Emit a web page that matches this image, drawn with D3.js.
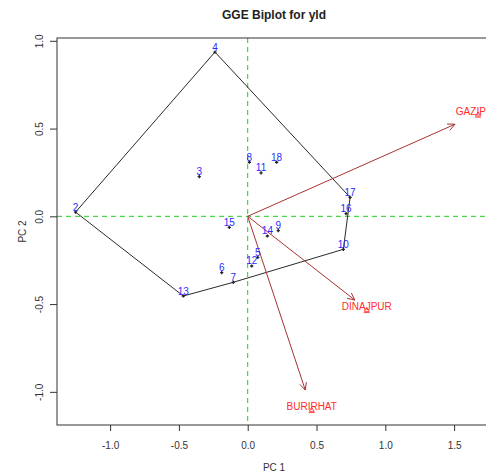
<!DOCTYPE html>
<html>
<head>
<meta charset="utf-8">
<script src="https://cdn.jsdelivr.net/npm/d3@7"></script>
<style>
  html, body { margin: 0; padding: 0; background: #fff; }
  svg { display: block; font-family: "Liberation Sans", Arial, sans-serif; }
</style>
</head>
<body>
<svg id="chart" width="486" height="474"></svg>
<script>
// Genotype scores on the first two principal components
const genotypes = ["2","3","4","5","6","7","8","9","10","11","12","13","14","15","16","17","18"];
const genoPC1 = [-1.251,-0.352,-0.238,0.073,-0.189,-0.105,0.012,0.222,0.695,0.097,0.029,-0.468,0.143,-0.134,0.715,0.744,0.210];
const genoPC2 = [0.024,0.226,0.936,-0.234,-0.321,-0.376,0.308,-0.082,-0.188,0.248,-0.283,-0.454,-0.112,-0.063,0.015,0.108,0.308];

// Environment vectors
const environments = ["GAZIPUR","DINAJPUR","BURIRHAT"];
const envPC1 = [1.674, 0.865, 0.465];
const envPC2 = [0.583, -0.530, -1.100];

const xTicks = [-1.0, -0.5, 0.0, 0.5, 1.0, 1.5];
const yTicks = [-1.0, -0.5, 0.0, 0.5, 1.0];

const svg = d3.select("#chart");
const L = 57, R = 491, T = 38, B = 425;

const x = d3.scaleLinear().domain([-1.386, 1.768]).range([L, R]);
const y = d3.scaleLinear().domain([-1.189, 1.016]).range([B, T]);

const fmt = d => d.toFixed(1);

// Title
svg.append("text").attr("x", (L + R) / 2).attr("y", 19)
  .attr("text-anchor", "middle").attr("font-size", 12).attr("font-weight", "bold")
  .attr("fill", "#222").text("GGE Biplot for yld");

// Clip for the plot region
svg.append("clipPath").attr("id", "plotclip")
  .append("rect").attr("x", L).attr("y", T).attr("width", R - L).attr("height", B - T);

const plot = svg.append("g").attr("clip-path", "url(#plotclip)");

// Reference lines through the origin
plot.append("line").attr("x1", x(0)).attr("x2", x(0)).attr("y1", T).attr("y2", B)
  .attr("stroke", "#22cc22").attr("stroke-width", 1).attr("stroke-dasharray", "5,4");
plot.append("line").attr("x1", L).attr("x2", R).attr("y1", y(0)).attr("y2", y(0))
  .attr("stroke", "#22cc22").attr("stroke-width", 1).attr("stroke-dasharray", "5,4");

// Convex hull of genotype points
const pts = genotypes.map((g, i) => [genoPC1[i], genoPC2[i]]);
const hull = d3.polygonHull(pts);
plot.append("path")
  .attr("d", d3.line().x(d => x(d[0])).y(d => y(d[1])).curve(d3.curveLinearClosed)(hull))
  .attr("fill", "none").attr("stroke", "#111").attr("stroke-width", 0.9);

// Environment arrows (drawn to 90% of each vector)
const arrowCol = "#a83232";
environments.forEach((e, i) => {
  const x0 = x(0), y0 = y(0);
  const x1 = x(envPC1[i] * 0.9), y1 = y(envPC2[i] * 0.9);
  plot.append("line").attr("x1", x0).attr("y1", y0).attr("x2", x1).attr("y2", y1)
    .attr("stroke", arrowCol).attr("stroke-width", 1);
  const ang = Math.atan2(y1 - y0, x1 - x0);
  const len = 8, spread = Math.PI / 7;
  [ang + Math.PI - spread, ang + Math.PI + spread].forEach(a => {
    plot.append("line").attr("x1", x1).attr("y1", y1)
      .attr("x2", x1 + len * Math.cos(a)).attr("y2", y1 + len * Math.sin(a))
      .attr("stroke", arrowCol).attr("stroke-width", 1);
  });
  // Environment marker and label
  const ex = x(envPC1[i]), ey = y(envPC2[i]);
  plot.append("path")
    .attr("d", `M${ex - 2.5},${ey + 2} L${ex},${ey - 2} L${ex + 2.5},${ey + 2} Z M${ex - 3},${ey + 3.2} L${ex + 3},${ey + 3.2}`)
    .attr("fill", "none").attr("stroke", "#ff2020").attr("stroke-width", 0.8);
  plot.append("text").attr("x", ex).attr("y", ey - 2.5).attr("dy", "0.35em")
    .attr("text-anchor", "middle").attr("font-size", 10).attr("fill", "#ff2a2a").text(e);
});

// Genotype markers and labels
genotypes.forEach((g, i) => {
  const px = x(genoPC1[i]), py = y(genoPC2[i]);
  plot.append("path")
    .attr("d", `M${px - 1.6},${py} L${px + 1.6},${py} M${px},${py - 1.6} L${px},${py + 1.6}`)
    .attr("stroke", "#222").attr("stroke-width", 1.3);
  plot.append("text").attr("x", px).attr("y", py - 5).attr("dy", "0.35em")
    .attr("text-anchor", "middle").attr("font-size", 10).attr("fill", "#2a2aff").text(g);
});

// Frame
svg.append("rect").attr("x", L).attr("y", T).attr("width", R - L).attr("height", B - T)
  .attr("fill", "none").attr("stroke", "#333").attr("stroke-width", 1);

// X axis
const xAxis = svg.append("g").attr("transform", `translate(0,${B})`)
  .call(d3.axisBottom(x).tickValues(xTicks).tickFormat(fmt).tickSize(6).tickPadding(11));
xAxis.select(".domain").remove();
xAxis.selectAll("line").attr("stroke", "#333");
xAxis.selectAll("text").attr("font-size", 10).attr("fill", "#333")
  .attr("font-family", "Liberation Sans, Arial, sans-serif");

// Y axis with rotated labels
const yAxis = svg.append("g").attr("transform", `translate(${L},0)`)
  .call(d3.axisLeft(y).tickValues(yTicks).tickFormat(fmt).tickSize(7).tickPadding(0));
yAxis.select(".domain").remove();
yAxis.selectAll("line").attr("stroke", "#333");
yAxis.selectAll("text")
  .attr("font-size", 10).attr("fill", "#333")
  .attr("font-family", "Liberation Sans, Arial, sans-serif")
  .attr("text-anchor", "middle").attr("dy", "0.35em")
  .attr("x", 0)
  .attr("transform", "translate(-18,0) rotate(-90)");

// Axis titles
svg.append("text").attr("x", (L + R) / 2).attr("y", 471)
  .attr("text-anchor", "middle").attr("font-size", 10).attr("fill", "#333").text("PC 1");
svg.append("text").attr("transform", `translate(22,${(T + B) / 2}) rotate(-90)`)
  .attr("text-anchor", "middle").attr("dy", "0.35em")
  .attr("font-size", 10).attr("fill", "#333").text("PC 2");
</script>
</body>
</html>
